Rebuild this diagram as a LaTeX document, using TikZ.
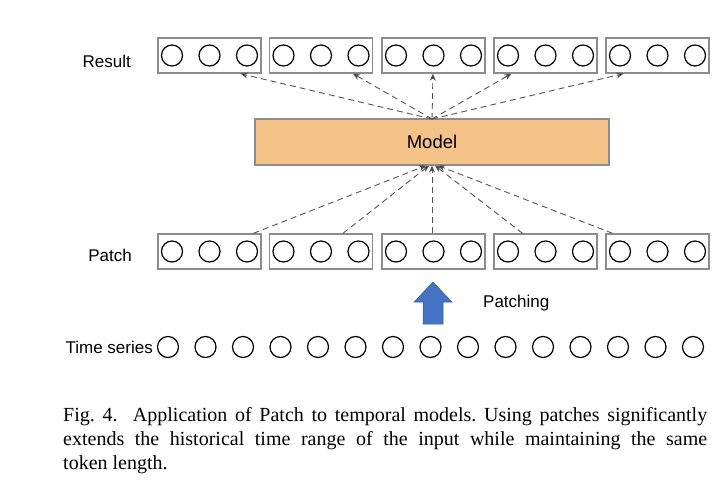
\documentclass[tikz,border=0pt]{standalone}
\usepackage{fontspec}
\setmainfont{Liberation Sans}
\newfontfamily\capfont{Liberation Serif}
\usetikzlibrary{arrows.meta,calc}
\definecolor{boxgray}{HTML}{8C8C8C}
\definecolor{modelfill}{HTML}{F5C287}
\definecolor{arrowblue}{HTML}{4472C4}
\definecolor{dashgray}{HTML}{555555}
\tikzset{
  patchbox/.style={draw=boxgray, line width=1.4pt, minimum width=103pt, minimum height=35pt, inner sep=0pt},
  tok/.style={draw=black, line width=1.2pt, circle, minimum size=21pt, inner sep=0pt},
  lab/.style={font=\fontsize{17}{20}\selectfont, inner sep=0pt},
  modelbox/.style={draw=boxgray, line width=1.2pt, fill=modelfill, minimum width=354pt, minimum height=46pt, inner sep=0pt, font=\fontsize{18.5}{21}\selectfont},
  dasharrow/.style={draw=dashgray, line width=0.9pt, dash pattern=on 6pt off 4pt, -{Stealth[length=7pt,width=6pt,fill=black]}},
}
\begin{document}
\begin{tikzpicture}[x=1pt,y=-1pt]
\useasboundingbox (0,0) rectangle (726,484);
% boxes
\foreach \i/\x in {1/209.5,2/321,3/433.5,4/545.5,5/657.5}{
  \node[patchbox] (r\i) at (\x,55.5) {};
  \node[patchbox] (p\i) at (\x,251.5) {};
  \foreach \j/\d in {a/-37.5,b/0,c/37.5}{
    \node[tok] (r\i\j) at (\x+\d,55.5) {};
    \node[tok] (p\i\j) at (\x+\d,251.5) {};
  }
}
\node[modelbox] (model) at (432,142) {Model};
\node[lab, anchor=east] (lres) at (131,61) {Result};
\node[lab, anchor=east] (lpatch) at (132,255) {Patch};
\node[lab, anchor=east] (lts) at (153,347) {Time series};
\node[lab, anchor=west] (lpatching) at (483,303) {Patching};
% time series
\foreach \k in {0,...,14}{
  \node[tok] (t\k) at (168+37.5*\k,347) {};
}
% top arrows
\coordinate (mtop) at (432,119);
\draw[dasharrow] (mtop) -- ([xshift=31pt]r1.south);
\draw[dasharrow] (mtop) -- ([xshift=32pt]r2.south);
\draw[dasharrow] (mtop) -- ([xshift=-0.5pt]r3.south);
\draw[dasharrow] (mtop) -- ([xshift=-34pt]r4.south);
\draw[dasharrow] (mtop) -- ([xshift=-34pt]r5.south);
% bottom arrows
\draw[dasharrow] ([xshift=44pt]p1.north) -- ([xshift=-6pt]model.south);
\draw[dasharrow] ([xshift=22pt]p2.north) -- ([xshift=-3pt]model.south);
\draw[dasharrow] ([xshift=-1.5pt]p3.north) -- (model.south);
\draw[dasharrow] ([xshift=-23pt]p4.north) -- ([xshift=3pt]model.south);
\draw[dasharrow] ([xshift=-45pt]p5.north) -- ([xshift=6pt]model.south);
% blue arrow
\filldraw[fill=arrowblue, draw=arrowblue!80!black, line width=0.5pt]
  (423,324) -- (443,324) -- (443,302) -- (452,302) -- (433,282) -- (414,302) -- (423,302) -- cycle;
% caption
\node[anchor=north west, inner sep=0pt, text width=644pt, align=justify, font=\capfont\fontsize{20}{24}\selectfont] (cap) at (63,407.5)
  {\frenchspacing\hyphenpenalty=10000 Fig.~4.\ \ Application of Patch to temporal models. Using patches significantly\linebreak extends the historical time range of the input while maintaining the same\linebreak token length.};
\end{tikzpicture}
\end{document}
